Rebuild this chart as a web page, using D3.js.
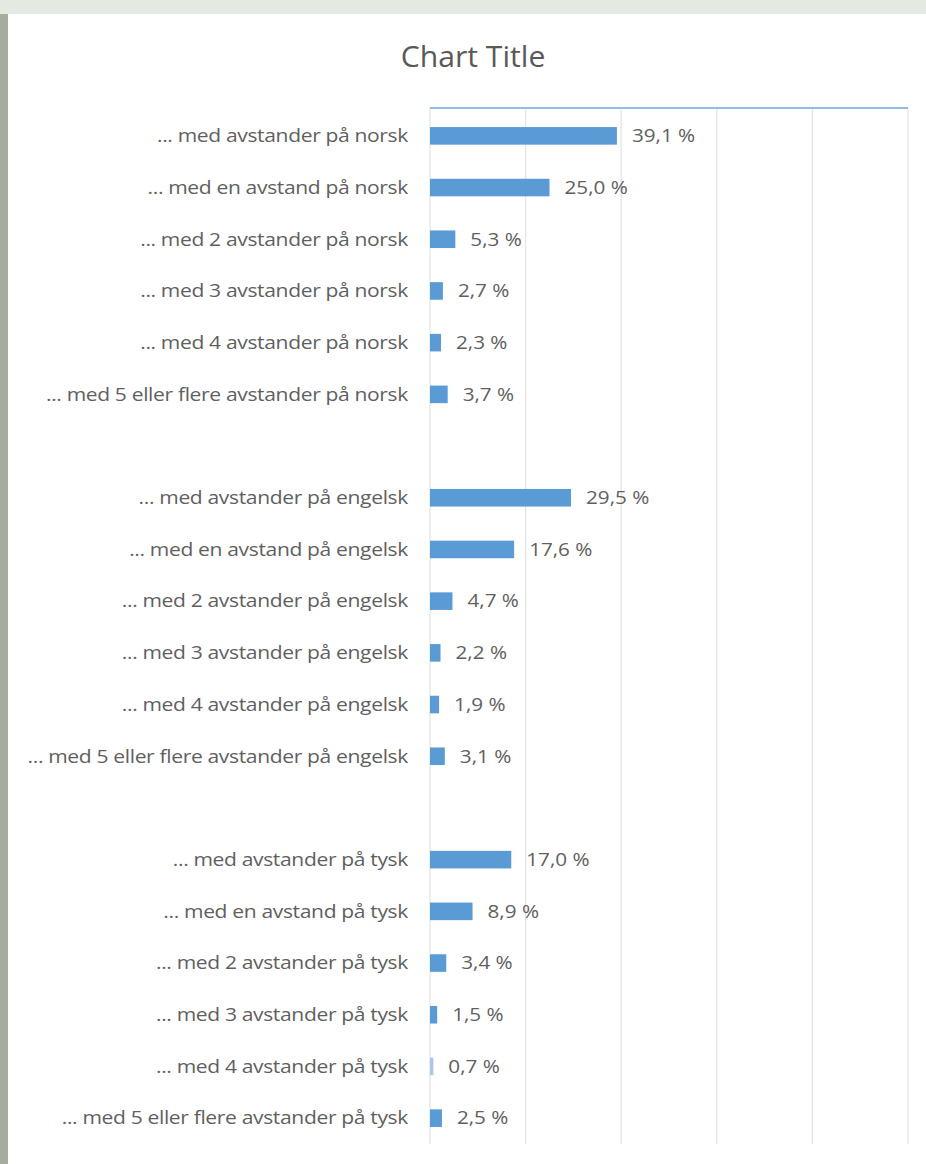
<!DOCTYPE html>
<html><head><meta charset="utf-8">
<script src="https://cdn.jsdelivr.net/npm/d3@7"></script>
<style>body{margin:0;background:#e4eae2;overflow:hidden}</style>
</head><body>
<svg id="c" width="926" height="1164"></svg>
<script>
const categories = [
  "... med avstander på norsk","... med en avstand på norsk","... med 2 avstander på norsk","... med 3 avstander på norsk","... med 4 avstander på norsk","... med 5 eller flere avstander på norsk",
  "",
  "... med avstander på engelsk","... med en avstand på engelsk","... med 2 avstander på engelsk","... med 3 avstander på engelsk","... med 4 avstander på engelsk","... med 5 eller flere avstander på engelsk",
  "",
  "... med avstander på tysk","... med en avstand på tysk","... med 2 avstander på tysk","... med 3 avstander på tysk","... med 4 avstander på tysk","... med 5 eller flere avstander på tysk"
];
const values = [39.1,25.0,5.3,2.7,2.3,3.7, null, 29.5,17.6,4.7,2.2,1.9,3.1, null, 17.0,8.9,3.4,1.5,0.7,2.5];
const gridTicks = [0,20,40,60,80,100];

const svg = d3.select("#c");
svg.append("rect").attr("x",0).attr("y",0).attr("width",926).attr("height",1164).attr("fill","#e4eae2");
svg.append("rect").attr("x",0).attr("y",14).attr("width",9).attr("height",1150).attr("fill","#a6ad9f");
svg.append("rect").attr("x",8).attr("y",14).attr("width",918).attr("height",1150).attr("fill","#ffffff");

const x = d3.scaleLinear().domain([0,100]).range([430,908]);
const y = d3.scaleBand().domain(d3.range(categories.length)).range([110,1144]).paddingInner(0.66).paddingOuter(0.33);

svg.append("g").selectAll("line").data(gridTicks).join("line")
  .attr("x1",d=>x(d)).attr("x2",d=>x(d)).attr("y1",108).attr("y2",1144)
  .attr("stroke","#e3e3e3").attr("stroke-width",1.2);

svg.append("line").attr("x1",x(0)).attr("x2",x(100)).attr("y1",108).attr("y2",108)
  .attr("stroke","#8fbde3").attr("stroke-width",2);

svg.append("text").attr("transform","translate(473,67) scale(1.04,1)").attr("text-anchor","middle")
  .attr("font-family","'Open Sans', sans-serif").attr("font-size",29).attr("fill","#595959").text("Chart Title");

const data = categories.map((c,i)=>({c,i,v:values[i]}));
const cy = d => y(d.i)+y.bandwidth()/2;

svg.append("g").selectAll("text").data(data.filter(d=>d.c)).join("text")
  .attr("transform",d=>`translate(408,${cy(d)}) scale(1.17,1)`).attr("dy","0.35em")
  .attr("text-anchor","end").attr("font-family","'Open Sans', sans-serif").attr("font-size",18)
  .attr("letter-spacing","-0.3").attr("fill","#5f5f5f").text(d=>d.c);

const bd = data.filter(d=>d.v!=null);
svg.append("g").selectAll("rect").data(bd).join("rect")
  .attr("x",x(0)).attr("y",d=>y(d.i)).attr("width",d=>x(d.v)-x(0)).attr("height",y.bandwidth())
  .attr("fill",d=>d.v<1?"#a9c8e8":"#5b9bd5");

svg.append("g").selectAll("text").data(bd).join("text")
  .attr("transform",d=>`translate(${x(d.v)+15},${cy(d)}) scale(1.15,1)`).attr("dy","0.35em")
  .attr("font-family","'Open Sans', sans-serif").attr("font-size",18)
  .attr("fill","#5f5f5f").text(d=>d.v.toFixed(1).replace(".",",")+" %");
</script>
</body></html>
